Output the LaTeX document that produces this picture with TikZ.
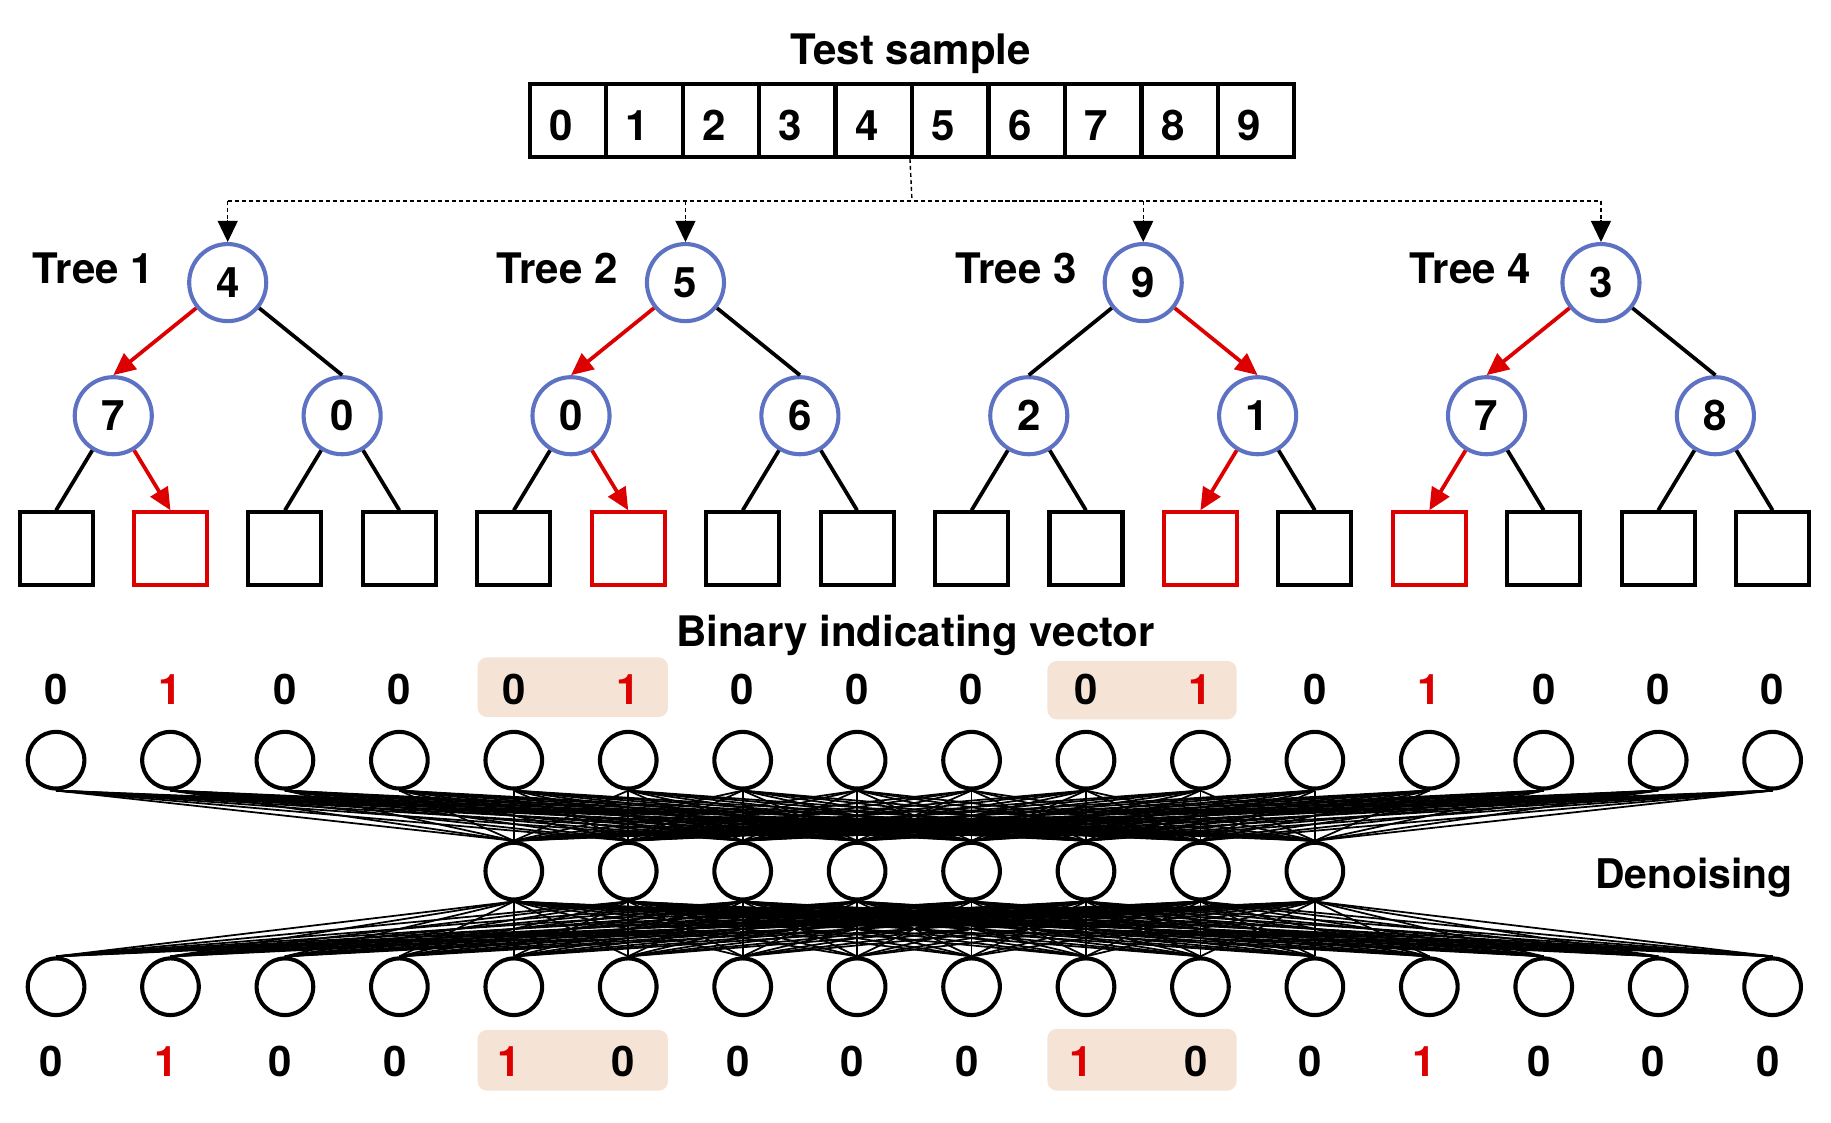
\documentclass[tikz,border=0pt]{standalone}
\usepackage{fontspec}
\setmainfont{TeX Gyre Heros}
\usetikzlibrary{arrows.meta}
\definecolor{nblue}{RGB}{93,114,194}
\definecolor{pred}{RGB}{221,0,0}
\definecolor{hl}{RGB}{245,227,214}
\begin{document}
\begin{tikzpicture}[x=1pt,y=-1pt,
  font=\fontsize{36}{40}\selectfont\bfseries,
  tnode/.style={circle, draw=nblue, line width=3.5pt, minimum size=66pt, inner sep=0pt},
  leafbox/.style={draw, line width=3.5pt, minimum size=62.5pt, inner sep=0pt},
  cellbox/.style={draw, line width=3.5pt, minimum width=65.5pt, minimum height=62.5pt, inner sep=0pt},
  neuron/.style={circle, draw, line width=3.5pt, minimum size=48.5pt, inner sep=0pt},
  conn/.style={line width=1.5pt},
  tedge/.style={line width=3.2pt},
  redge/.style={line width=3.2pt, pred, -{Triangle[length=19pt,width=17pt]}},
  dsh/.style={line width=1.2pt, dash pattern=on 3.5pt off 2.5pt},
  dtip/.style={line width=1.2pt, -{Triangle[length=18pt,width=17pt]}},
  txt/.style={inner sep=0pt, anchor=base}
]
\useasboundingbox (0,0) rectangle (1568,961);

% title and array
\node[txt] (title) at (780,55) {Test sample};
\foreach \i in {0,...,9} {
  \node[cellbox] (a\i) at (486.25+65.5*\i,103) {};
  \node[txt] (d\i) at (480.25+65.5*\i,120) {\i};
}

% trees
\foreach \k/\rv/\lv/\cv/\tx in {1/4/7/0/28, 2/5/0/6/425, 3/9/2/1/818, 4/3/7/8/1207} {
  \node[tnode] (rt\k) at (195+392*\k-392,242) {\rv};
  \node[tnode] (lc\k) at (97+392*\k-392,356) {\lv};
  \node[tnode] (rc\k) at (293+392*\k-392,356) {\cv};
  \node[txt, anchor=base west] (tl\k) at (\tx,243) {Tree \k};
}
\foreach \i in {0,...,15} {
  \node[leafbox] (lf\i) at (48+98*\i,470) {};
}
\foreach \i in {1,5,10,12} {
  \node[leafbox, draw=pred] at (lf\i) {};
}

% dashed distribution
\coordinate (hub) at (781,172);
\draw[dsh] (a5.south west) -- (hub);
\draw[dsh] (hub -| rt1) -- (hub -| rt4);
\foreach \k in {1,...,4} {
  \coordinate (ah\k) at ([yshift=19pt]rt\k.north);
  \draw[dsh] (hub -| rt\k) -- (ah\k);
  \draw[dtip] (ah\k) -- (rt\k.north);
}

% tree edges
\draw[redge] (rt1) -- (lc1.north);
\draw[tedge] (rt1) -- (rc1.north);
\draw[tedge] (lc1) -- (lf0.north);
\draw[redge] (lc1) -- (lf1.north);
\draw[tedge] (rc1) -- (lf2.north);
\draw[tedge] (rc1) -- (lf3.north);

\draw[redge] (rt2) -- (lc2.north);
\draw[tedge] (rt2) -- (rc2.north);
\draw[tedge] (lc2) -- (lf4.north);
\draw[redge] (lc2) -- (lf5.north);
\draw[tedge] (rc2) -- (lf6.north);
\draw[tedge] (rc2) -- (lf7.north);

\draw[tedge] (rt3) -- (lc3.north);
\draw[redge] (rt3) -- (rc3.north);
\draw[tedge] (lc3) -- (lf8.north);
\draw[tedge] (lc3) -- (lf9.north);
\draw[redge] (rc3) -- (lf10.north);
\draw[tedge] (rc3) -- (lf11.north);

\draw[redge] (rt4) -- (lc4.north);
\draw[tedge] (rt4) -- (rc4.north);
\draw[redge] (lc4) -- (lf12.north);
\draw[tedge] (lc4) -- (lf13.north);
\draw[tedge] (rc4) -- (lf14.north);
\draw[tedge] (rc4) -- (lf15.north);

% binary vector
\node[txt] (bvlabel) at (784,554) {Binary indicating vector};
\fill[hl, rounded corners=8pt] (409,563) rectangle (572,614);
\fill[hl, rounded corners=8pt] (897,566) rectangle (1059,616);
\fill[hl, rounded corners=8pt] (409,882) rectangle (572,934);
\fill[hl, rounded corners=8pt] (897,881) rectangle (1059,934);

\foreach \v [count=\i from 0] in {0,1,0,0,0,1,0,0,0,0,1,0,1,0,0,0} {
  \node[txt] (tv\i) at (48+98*\i,603) {\ifnum\v=1\color{pred}\fi\v};
}
\foreach \v [count=\i from 0] in {0,1,0,0,1,0,0,0,0,1,0,0,1,0,0,0} {
  \node[txt] (bv\i) at (44+98*\i,922) {\ifnum\v=1\color{pred}\fi\v};
}

% network
\foreach \i in {0,...,15} {
  \node[neuron] (t\i) at (48+98*\i,651) {};
  \node[neuron] (b\i) at (48+98*\i,845) {};
}
\foreach \j in {4,...,11} {
  \node[neuron] (m\j) at (48+98*\j,746) {};
}
\foreach \i in {0,...,15} {
  \foreach \j in {4,...,11} {
    \draw[conn] (t\i.south) -- (m\j.north);
    \draw[conn] (m\j.south) -- (b\i.north);
  }
}
\node[txt, anchor=base west] (den) at (1366,761) {\fontsize{35}{40}\selectfont Denoising};
\end{tikzpicture}
\end{document}
